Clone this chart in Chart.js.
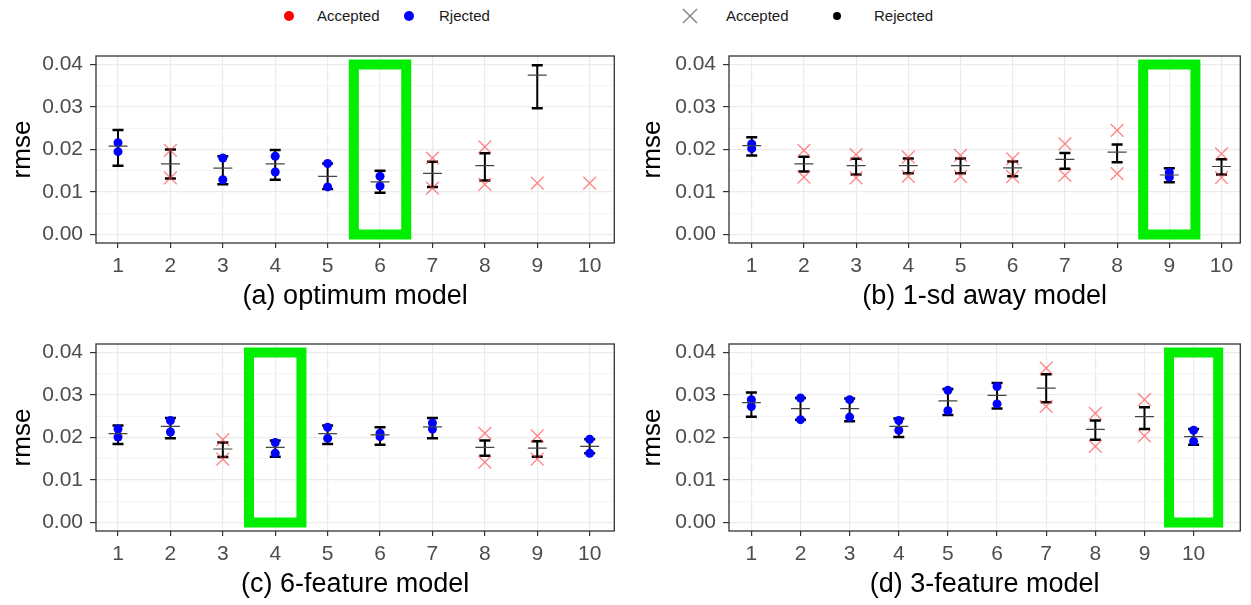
<!DOCTYPE html>
<html>
<head>
<meta charset="utf-8">
<script src="https://cdn.jsdelivr.net/npm/chart.js@4.4.0/dist/chart.umd.min.js"></script>
<style>
  body { margin:0; background:#fff; width:1251px; height:605px; overflow:hidden; position:relative;
         font-family:"Liberation Sans", Arial, sans-serif; }
  .panel { position:absolute; }
  .key { position:absolute; top:6px; font-size:15px; line-height:20px; color:#1a1a1a; }
  .dot { position:absolute; border-radius:50%; }
</style>
</head>
<body>
<!-- legend -->
<div class="dot" style="left:284px;top:11px;width:10px;height:10px;background:#ff0000"></div>
<div class="key" style="left:317px">Accepted</div>
<div class="dot" style="left:404px;top:11px;width:10px;height:10px;background:#0000ff"></div>
<div class="key" style="left:439px">Rjected</div>
<svg style="position:absolute;left:682px;top:8px" width="16" height="16">
  <line x1="1" y1="1" x2="15" y2="15" stroke="#888" stroke-width="1.5"/>
  <line x1="15" y1="1" x2="1" y2="15" stroke="#888" stroke-width="1.5"/>
</svg>
<div class="key" style="left:726px">Accepted</div>
<div class="dot" style="left:833px;top:12px;width:8px;height:8px;background:#000"></div>
<div class="key" style="left:874px">Rejected</div>

<canvas id="chartA" class="panel" style="left:0;top:40px" width="625" height="275"></canvas>
<canvas id="chartB" class="panel" style="left:630px;top:40px" width="621" height="275"></canvas>
<canvas id="chartC" class="panel" style="left:0;top:328px" width="625" height="275"></canvas>
<canvas id="chartD" class="panel" style="left:630px;top:328px" width="621" height="275"></canvas>

<script>
const models = [1, 2, 3, 4, 5, 6, 7, 8, 9, 10];

// (a) optimum model
const optLow  = [0.0162, 0.0132, 0.0118, 0.0129, 0.0107, 0.0098, 0.0112, 0.0127, 0.0297, null];
const optHigh = [0.0246, 0.0200, 0.0184, 0.0199, 0.0167, 0.0150, 0.0171, 0.0191, 0.0398, null];
const optMean = [0.0208, 0.0166, 0.0156, 0.0166, 0.0137, 0.0124, 0.0144, 0.0162, 0.0375, null];
const optPt1  = [0.0216, 0.0198, 0.0180, 0.0184, 0.0167, 0.0137, 0.0180, 0.0206, 0.0121, 0.0121];
const optPt2  = [0.0195, 0.0133, 0.0129, 0.0147, 0.0112, 0.0114, 0.0109, 0.0118, null, null];
const optAcc  = [false, true, false, false, false, false, true, true, true, true];

// (b) 1-sd away model
const sdLow  = [0.0186, 0.0148, 0.0141, 0.0144, 0.0144, 0.0137, 0.0155, 0.0170, 0.0123, 0.0141];
const sdHigh = [0.0229, 0.0183, 0.0178, 0.0179, 0.0179, 0.0172, 0.0192, 0.0212, 0.0156, 0.0177];
const sdMean = [0.0209, 0.0166, 0.0162, 0.0162, 0.0162, 0.0157, 0.0177, 0.0194, 0.0140, 0.0160];
const sdPt1  = [0.0213, 0.0198, 0.0188, 0.0182, 0.0186, 0.0178, 0.0213, 0.0245, 0.0146, 0.0190];
const sdPt2  = [0.0202, 0.0135, 0.0133, 0.0137, 0.0137, 0.0136, 0.0139, 0.0143, 0.0135, 0.0134];
const sdAcc  = [false, true, true, true, true, true, true, true, false, true];

// (c) 6-feature model
const f6Low  = [0.0185, 0.0198, 0.0154, 0.0155, 0.0185, 0.0183, 0.0198, 0.0157, 0.0155, 0.0163];
const f6High = [0.0228, 0.0246, 0.0188, 0.0193, 0.0228, 0.0224, 0.0246, 0.0193, 0.0191, 0.0196];
const f6Mean = [0.0209, 0.0226, 0.0173, 0.0177, 0.0209, 0.0206, 0.0225, 0.0177, 0.0175, 0.0179];
const f6Pt1  = [0.0220, 0.0240, 0.0195, 0.0188, 0.0224, 0.0210, 0.0234, 0.0210, 0.0204, 0.0196];
const f6Pt2  = [0.0201, 0.0213, 0.0149, 0.0163, 0.0198, 0.0202, 0.0220, 0.0142, 0.0149, 0.0163];
const f6Acc  = [false, false, true, false, false, false, false, true, true, false];

// (d) 3-feature model
const f3Low  = [0.0249, 0.0242, 0.0238, 0.0201, 0.0253, 0.0268, 0.0283, 0.0195, 0.0220, 0.0183];
const f3High = [0.0306, 0.0293, 0.0292, 0.0245, 0.0314, 0.0328, 0.0349, 0.0240, 0.0271, 0.0220];
const f3Mean = [0.0282, 0.0268, 0.0268, 0.0226, 0.0286, 0.0299, 0.0316, 0.0219, 0.0249, 0.0202];
const f3Pt1  = [0.0289, 0.0293, 0.0289, 0.0240, 0.0311, 0.0320, 0.0363, 0.0257, 0.0289, 0.0217];
const f3Pt2  = [0.0273, 0.0242, 0.0248, 0.0217, 0.0263, 0.0279, 0.0273, 0.0179, 0.0204, 0.0191];
const f3Acc  = [false, false, false, false, false, false, true, true, true, false];

// highlighted model in each panel
const selected = [6, 9, 4, 10];

const FONT = '"Liberation Sans", Arial, sans-serif';

function isMinor(v){
    return Math.round(v / 0.005) % 2 !== 0;
}

// panel border drawn over everything, like theme_bw
const framePlugin = {
    id: 'frame',
    afterDatasetsDraw(chart){
        const a = chart.chartArea;
        const ctx = chart.ctx;
        ctx.save();
        ctx.strokeStyle = '#333333';
        ctx.lineWidth = 1.3;
        ctx.strokeRect(a.left, a.top, a.right - a.left, a.bottom - a.top);
        ctx.restore();
    }
};

function makePanel(id, title, lo, hi, mean, pt1, pt2, acc, sel, xMin, xMax, axisWidth, padRight){
    const bars = [], caps = [], means = [], accPts = [], rejPts = [];
    models.forEach(function(m, i){
        if(lo[i] !== null){
            bars.push({x: m, y: lo[i]}, {x: m, y: hi[i]}, {x: m, y: null});
            caps.push({x: m, y: lo[i]}, {x: m, y: hi[i]});
            means.push({x: m, y: mean[i]});
        }
        const target = acc[i] ? accPts : rejPts;
        if(pt1[i] !== null) target.push({x: m, y: pt1[i]});
        if(pt2[i] !== null) target.push({x: m, y: pt2[i]});
    });
    const box = [
        {x: sel - 0.5, y: 0}, {x: sel + 0.5, y: 0}, {x: sel + 0.5, y: 0.04},
        {x: sel - 0.5, y: 0.04}, {x: sel - 0.5, y: 0}, {x: sel + 0.5, y: 0}
    ];

    const ctx = document.getElementById(id).getContext('2d');
    return new Chart(ctx, {
        type: 'scatter',
        data: {
            datasets: [
                { data: box, showLine: true, borderColor: '#00ee00', borderWidth: 10,
                  borderJoinStyle: 'miter', pointRadius: 0, tension: 0, order: 5 },
                { data: bars, showLine: true, spanGaps: false, borderColor: '#000', borderWidth: 2,
                  pointRadius: 0, tension: 0, order: 4 },
                { data: caps, pointStyle: 'line', pointRadius: 5.5, pointBorderWidth: 2.5,
                  pointBorderColor: '#000', order: 3 },
                { data: accPts, pointStyle: 'crossRot', pointRadius: 9, pointBorderWidth: 1.4,
                  pointBorderColor: 'rgba(255,60,60,0.6)', order: 2 },
                { data: rejPts, pointStyle: 'circle', pointRadius: 4.5, pointBorderWidth: 0,
                  pointBackgroundColor: '#0000ff', pointBorderColor: '#0000ff', order: 2 },
                { data: means, pointStyle: 'line', pointRadius: 9.5, pointBorderWidth: 1.2,
                  pointBorderColor: '#444', order: 1 }
            ]
        },
        options: {
            responsive: false,
            animation: false,
            events: [],
            layout: { padding: { left: 0, top: 16, right: padRight, bottom: 0 } },
            plugins: { legend: { display: false }, tooltip: { enabled: false } },
            scales: {
                x: {
                    type: 'linear', min: xMin, max: xMax,
                    afterFit: function(s){ s.height = 72; s.paddingLeft = 0; s.paddingRight = 0; },
                    border: { display: false },
                    grid: { color: '#ebebeb', lineWidth: 1.2, tickLength: 5, tickColor: '#333', tickWidth: 1.2 },
                    ticks: { stepSize: 1, includeBounds: false, autoSkip: false, maxRotation: 0,
                             padding: 6, color: '#4d4d4d', font: { size: 21, family: FONT } },
                    title: { display: true, text: title, color: '#000',
                             font: { size: 27, family: FONT }, padding: { top: 0, bottom: 2 } }
                },
                y: {
                    min: -0.002, max: 0.042,
                    afterFit: function(s){ s.width = axisWidth; s.paddingTop = 0; s.paddingBottom = 0; },
                    border: { display: false },
                    grid: {
                        color: c => (c.tick && isMinor(c.tick.value)) ? '#f2f2f2' : '#ebebeb',
                        lineWidth: c => (c.tick && isMinor(c.tick.value)) ? 0.8 : 1.2,
                        tickLength: 6,
                        tickColor: c => (c.tick && isMinor(c.tick.value)) ? 'rgba(0,0,0,0)' : '#333',
                        tickWidth: 1.2
                    },
                    ticks: { stepSize: 0.005, includeBounds: false, autoSkip: false, padding: 7,
                             color: '#4d4d4d', font: { size: 21, family: FONT },
                             callback: v => isMinor(v) ? '' : v.toFixed(2) },
                    title: { display: true, text: 'rmse', color: '#000',
                             font: { size: 26, family: FONT }, padding: { top: 7, bottom: 0 } }
                }
            }
        },
        plugins: [framePlugin]
    });
}

makePanel('chartA', '(a) optimum model', optLow, optHigh, optMean, optPt1, optPt2, optAcc, selected[0], 0.58, 10.47, 96, 4);
makePanel('chartB', '(b) 1-sd away model', sdLow, sdHigh, sdMean, sdPt1, sdPt2, sdAcc, selected[1], 0.565, 10.36, 99, 1);
makePanel('chartC', '(c) 6-feature model', f6Low, f6High, f6Mean, f6Pt1, f6Pt2, f6Acc, selected[2], 0.58, 10.47, 96, 4);
makePanel('chartD', '(d) 3-feature model', f3Low, f3High, f3Mean, f3Pt1, f3Pt2, f3Acc, selected[3], 0.545, 10.95, 99, 0);
</script>
</body>
</html>
